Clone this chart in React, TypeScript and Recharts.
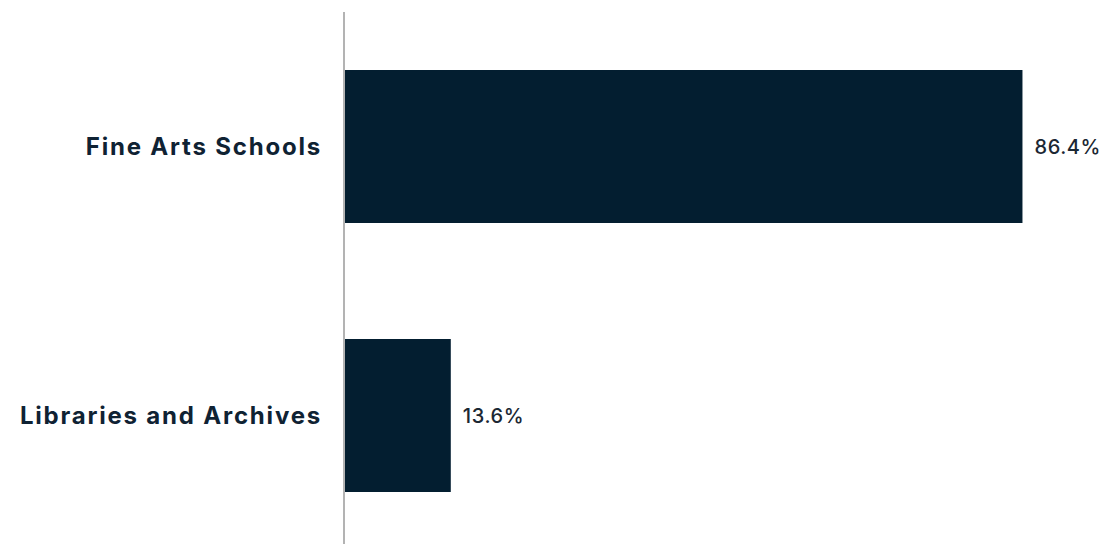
import { BarChart, Bar, XAxis, YAxis, LabelList } from 'recharts'

const categories = ['Fine Arts Schools', 'Libraries and Archives']
const shares = [86.4, 13.6]

const data = categories.map((name, i) => ({ name, share: shares[i] }))

const navy = '#031e30'

export default function App() {
  return (
    <div style={{ position: 'absolute', top: 0, left: 0, width: 1105, height: 544, overflow: 'hidden', background: '#fff' }}>
      <BarChart
        width={1105}
        height={560}
        data={data}
        layout="vertical"
        margin={{ top: 12, right: 15, left: 0, bottom: 10 }}
      >
        <XAxis type="number" domain={[0, 95]} hide />
        <YAxis
          type="category"
          dataKey="name"
          width={344}
          axisLine={{ stroke: '#b3b3b3', strokeWidth: 2 }}
          tickLine={false}
          tickSize={0}
          tickMargin={22}
          tick={{ fontSize: 24, fontWeight: 700, fill: '#0f2233', fontFamily: 'Inter, sans-serif', letterSpacing: 1.8 }}
        />
        <Bar dataKey="share" fill={navy} barSize={153} isAnimationActive={false}>
          <LabelList
            dataKey="share"
            position="right"
            offset={12}
            formatter={(v: number) => `${v.toFixed(1)}%`}
            style={{ fontSize: 20, fontWeight: 500, fill: '#1b2733', fontFamily: 'Inter, sans-serif', letterSpacing: 0.6 }}
          />
        </Bar>
      </BarChart>
    </div>
  )
}
